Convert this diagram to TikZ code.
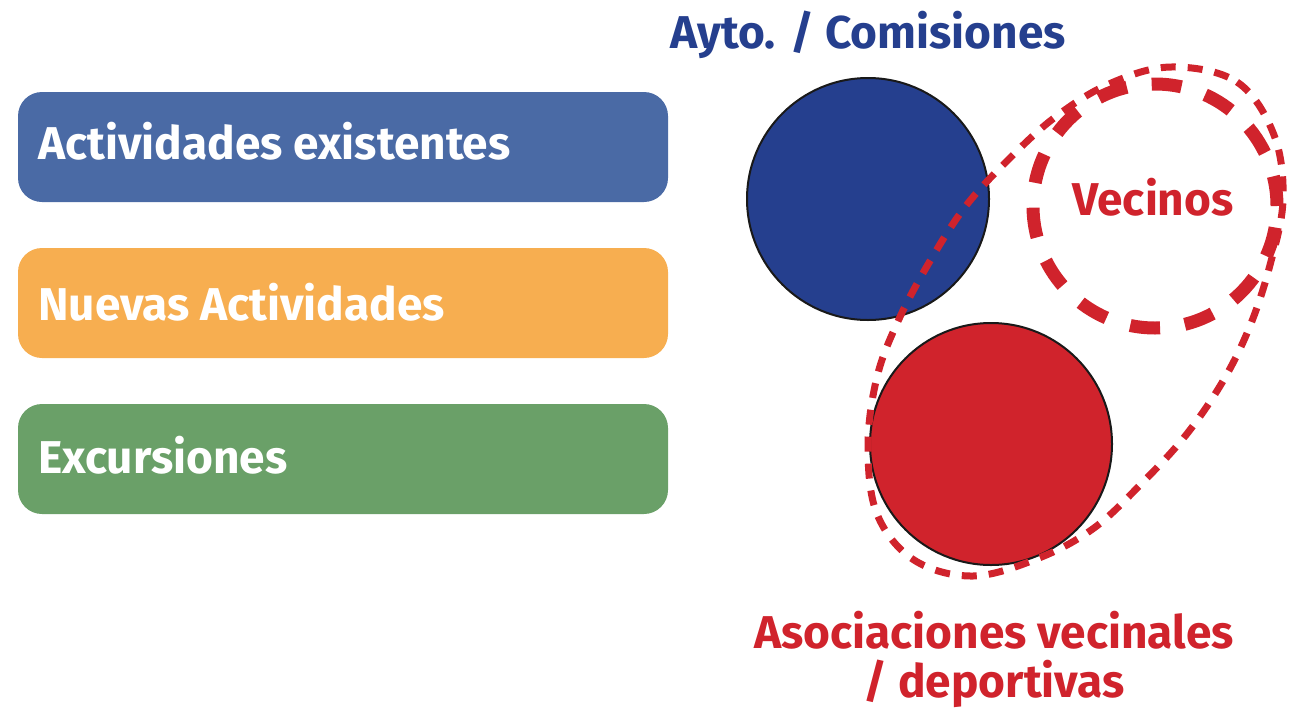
\documentclass[tikz,border=0pt]{standalone}
\usepackage{fontspec}
\setmainfont{Fira Sans}
\definecolor{boxblue}{HTML}{4A6AA5}
\definecolor{boxorange}{HTML}{F7AE50}
\definecolor{boxgreen}{HTML}{6AA068}
\definecolor{navy}{HTML}{253F8E}
\definecolor{redc}{HTML}{D0232C}
\tikzset{
  catbox/.style={rounded corners=24pt},
  boxtext/.style={anchor=base west, inner sep=0pt, text=white, font=\fontsize{46}{52}\selectfont\bfseries},
  bigcircle/.style={circle, draw=black!90, line width=2pt, minimum size=242pt, inner sep=0pt},
  lbl/.style={inner sep=0pt, font=\fontsize{46}{52}\selectfont\bfseries},
}
\begin{document}
\begin{tikzpicture}[x=1pt,y=-1pt]
\useasboundingbox (0,0) rectangle (1309,707);
% left boxes
\fill[boxblue, catbox] (18,92) rectangle (668,202);
\node[boxtext] (t1) at (38,159) {Actividades existentes};
\fill[boxorange, catbox] (18,248) rectangle (668,358);
\node[boxtext] (t2) at (38,320) {Nuevas Actividades};
\fill[boxgreen, catbox] (18,404) rectangle (668,514);
\node[boxtext] (t3) at (38,473) {Excursiones};
% circles
\node[bigcircle, fill=navy] (ayto) at (868,199) {};
\node[bigcircle, fill=redc] (asoc) at (991,444) {};
\node[circle, draw=redc, line width=13pt, dash pattern=on 30pt off 25pt, minimum size=244pt, inner sep=0pt] (vec) at (1155,206) {};
\node[lbl, text=redc, anchor=base] (veclbl) at (1153,215) {Vecinos};
% thin dashed loop
\draw[redc, line width=7pt, dash pattern=on 15pt off 12pt] plot[smooth cycle, tension=0.6] coordinates {
 (1171,67) (1237,82) (1274,135) (1283,200) (1270,265) (1250,326) (1223,381) (1186,435)
 (1142,483) (1094,528) (1039,558) (973,576) (914,560) (877,514) (868,446) (877,377)
 (899,319) (930,261) (965,207) (1006,162) (1054,118) (1109,84)};
% labels
\node[lbl, text=navy, anchor=base] (aytolbl) at (868,48) {Ayto. / Comisiones};
\node[lbl, text=redc, anchor=base] (asoclbl1) at (994,648) {Asociaciones vecinales};
\node[lbl, text=redc, anchor=base] (asoclbl2) at (994,697) {/ deportivas};
\end{tikzpicture}
\end{document}
